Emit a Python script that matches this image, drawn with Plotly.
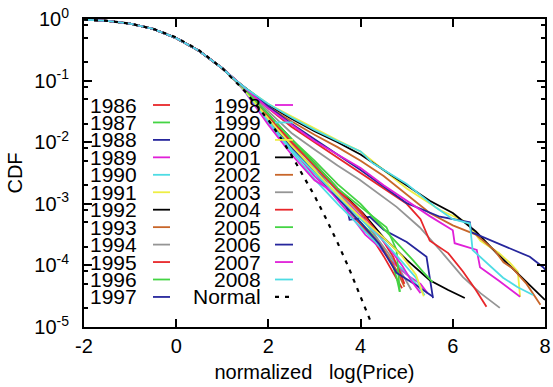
import plotly.graph_objects as go

# ---------------- data ----------------
YEARS = [str(y) for y in range(1986, 2009)]

# common body of all curves (x, log10 CDF)
BODY_X = [-2.0, -1.5, -1.0, -0.5, 0.0, 0.5, 1.0, 1.25]
BODY_LOG = [-0.01, -0.03, -0.075, -0.16, -0.31, -0.52, -0.80, -0.97]

# tails per year: x and -log10(CDF)
TAIL_X = {
    "1986": [1.5, 2.0, 2.4, 2.8, 3.2, 3.6, 3.9, 4.2, 4.5, 4.7, 4.9],
    "1987": [1.5, 2.0, 2.5, 3.0, 3.4, 3.8, 4.2, 4.5, 4.7, 4.78, 4.85],
    "1988": [1.5, 2.0, 2.5, 3.0, 3.3, 3.5, 3.7, 3.76, 4.2, 4.5, 5.0, 5.43, 5.5, 5.57],
    "1989": [1.5, 2.0, 2.5, 3.0, 3.4, 3.8, 4.1, 4.4, 4.7, 5.0, 5.3, 5.45],
    "1990": [1.5, 2.0, 2.5, 3.0, 3.5, 3.9, 4.3, 4.6, 4.9, 5.2, 5.39],
    "1991": [1.5, 2.0, 2.5, 3.0, 3.5, 4.0, 4.5, 5.0, 5.72, 6.3, 6.6, 7.0, 7.24, 7.41, 7.46],
    "1992": [1.5, 2.0, 2.5, 3.0, 3.5, 4.05, 4.5, 5.0, 5.5, 5.9, 6.26],
    "1993": [1.5, 2.0, 2.5, 3.0, 3.5, 4.0, 4.3, 4.6, 4.8, 4.95],
    "1994": [1.5, 2.0, 2.5, 3.0, 3.5, 4.0, 4.4, 4.8, 5.1],
    "1995": [1.5, 2.0, 2.5, 3.0, 3.5, 4.0, 4.4, 4.7, 4.85, 4.95],
    "1996": [1.5, 2.0, 2.5, 3.0, 3.5, 4.0, 4.26, 4.56, 4.78, 4.82, 4.85],
    "1997": [1.5, 2.0, 2.5, 3.0, 3.5, 4.0, 4.4, 4.78, 5.2, 5.57],
    "1998": [1.5, 2.0, 2.5, 3.0, 3.4, 3.8, 4.2, 4.6, 4.9, 5.1, 5.3],
    "1999": [1.5, 2.0, 2.5, 3.0, 3.5, 4.0, 4.5, 4.9, 5.2, 5.35],
    "2000": [1.5, 2.0, 2.5, 3.0, 3.5, 4.0, 4.5, 4.9, 5.2, 5.37],
    "2001": [1.5, 2.0, 2.5, 3.0, 3.5, 4.0, 4.5, 5.0, 5.5, 6.0, 6.5, 6.95, 7.39, 7.7, 8.0],
    "2002": [1.5, 2.0, 2.5, 3.0, 3.5, 4.0, 4.5, 5.0, 5.5, 6.0, 6.5, 6.9, 7.1, 7.3, 7.6, 7.9],
    "2003": [1.5, 2.0, 2.5, 3.0, 3.5, 3.98, 4.78, 5.28, 5.72, 6.22, 6.6, 7.02],
    "2004": [1.5, 2.0, 2.5, 3.0, 3.5, 4.0, 4.5, 5.0, 5.3, 5.5, 5.9, 6.22, 6.5, 6.73],
    "2005": [1.5, 2.0, 2.5, 3.0, 3.5, 4.0, 4.5, 5.13, 5.35, 5.56],
    "2006": [1.5, 2.0, 2.5, 3.0, 3.5, 4.0, 4.5, 5.0, 5.72, 6.37, 6.4, 7.0, 7.67, 7.96, 8.1],
    "2007": [1.5, 2.0, 2.5, 3.0, 3.5, 4.0, 4.5, 5.0, 5.5, 6.0, 6.04, 6.52, 6.59, 7.0, 7.46],
    "2008": [1.5, 2.0, 2.5, 3.0, 3.5, 4.0, 4.26, 5.0, 5.65, 6.0, 6.37, 6.43, 7.09, 7.4, 7.74],
}
TAIL_DEC = {
    "1986": [1.16, 1.60, 1.95, 2.30, 2.62, 2.95, 3.25, 3.50, 3.85, 4.10, 4.37],
    "1987": [1.17, 1.62, 2.05, 2.45, 2.80, 3.15, 3.45, 3.75, 4.00, 4.20, 4.43],
    "1988": [1.15, 1.58, 1.98, 2.38, 2.70, 2.90, 3.05, 3.26, 3.21, 3.42, 3.62, 3.86, 4.20, 4.53],
    "1989": [1.18, 1.68, 2.10, 2.55, 2.85, 3.20, 3.50, 3.70, 3.95, 4.15, 4.30, 4.45],
    "1990": [1.18, 1.70, 2.15, 2.60, 3.00, 3.30, 3.60, 3.85, 4.05, 4.30, 4.48],
    "1991": [1.12, 1.38, 1.58, 1.78, 1.97, 2.15, 2.45, 2.75, 3.10, 3.30, 3.60, 3.80, 3.96, 4.10, 4.51],
    "1992": [1.15, 1.55, 1.95, 2.35, 2.75, 3.15, 3.55, 3.91, 4.24, 4.40, 4.53],
    "1993": [1.15, 1.58, 1.98, 2.35, 2.75, 3.15, 3.50, 3.85, 4.10, 4.35],
    "1994": [1.16, 1.60, 2.00, 2.40, 2.80, 3.20, 3.60, 4.00, 4.40],
    "1995": [1.15, 1.58, 2.00, 2.38, 2.78, 3.12, 3.50, 3.85, 4.10, 4.30],
    "1996": [1.15, 1.55, 1.95, 2.35, 2.75, 3.05, 3.21, 3.38, 3.75, 4.10, 4.43],
    "1997": [1.17, 1.65, 2.08, 2.50, 2.90, 3.30, 3.65, 4.12, 4.32, 4.51],
    "1998": [1.19, 1.72, 2.20, 2.62, 2.80, 3.05, 3.35, 3.70, 4.00, 4.25, 4.45],
    "1999": [1.18, 1.66, 2.12, 2.50, 2.88, 3.25, 3.60, 3.95, 4.20, 4.45],
    "2000": [1.17, 1.62, 2.05, 2.45, 2.85, 3.22, 3.55, 3.85, 4.15, 4.50],
    "2001": [1.12, 1.40, 1.62, 1.82, 2.00, 2.20, 2.45, 2.70, 2.95, 3.15, 3.45, 3.80, 4.12, 4.35, 4.56],
    "2002": [1.12, 1.42, 1.66, 1.88, 2.08, 2.30, 2.55, 2.85, 3.15, 3.35, 3.50, 3.75, 3.95, 4.05, 4.30, 4.64],
    "2003": [1.14, 1.50, 1.85, 2.12, 2.38, 2.61, 3.05, 3.38, 3.75, 4.19, 4.45, 4.69],
    "2004": [1.13, 1.45, 1.75, 2.00, 2.25, 2.50, 2.75, 3.00, 3.25, 3.60, 3.80, 4.10, 4.40, 4.67],
    "2005": [1.15, 1.55, 1.95, 2.30, 2.68, 3.00, 3.40, 3.91, 4.10, 4.27],
    "2006": [1.12, 1.42, 1.70, 1.95, 2.20, 2.45, 2.72, 2.99, 3.21, 3.30, 3.46, 3.65, 3.86, 4.03, 4.15],
    "2007": [1.13, 1.45, 1.72, 1.98, 2.20, 2.42, 2.70, 2.95, 3.20, 3.43, 3.64, 3.75, 4.03, 4.25, 4.51],
    "2008": [1.12, 1.38, 1.60, 1.80, 1.98, 2.15, 2.34, 2.68, 3.07, 3.25, 3.32, 3.75, 4.20, 4.35, 4.48],
}

NORMAL_X = [-2.0, -1.5, -1.0, -0.5, 0.0, 0.5, 1.0, 1.5, 2.0, 2.25, 2.5, 2.75, 3.0, 3.25, 3.5, 3.75, 4.0, 4.25]
NORMAL_DEC = [0.01, 0.03, 0.075, 0.16, 0.30, 0.51, 0.80, 1.18, 1.64, 1.91, 2.21, 2.53, 2.87, 3.24, 3.63, 4.05, 4.50, 4.97]

Y_TICK_VALS = [1, 1e-1, 1e-2, 1e-3, 1e-4, 1e-5]
Y_TICK_TEXT = ["10<sup>0</sup>", "10<sup>-1</sup>", "10<sup>-2</sup>", "10<sup>-3</sup>",
               "10<sup>-4</sup>", "10<sup>-5</sup>"]
Y_MINOR_VALS = [8e-1, 5e-1, 2e-1, 8e-2, 5e-2, 2e-2, 8e-3, 5e-3, 2e-3,
                8e-4, 5e-4, 2e-4, 8e-5, 5e-5, 2e-5]
X_TICK_VALS = [-2, 0, 2, 4, 6, 8]

# ---------------- styling ----------------
PALETTE = ["#e8262a", "#44d444", "#26269c", "#e020d8", "#4edce4",
           "#eeee44", "#000000", "#c8662a", "#959595"]
FONT = "Liberation Sans, Arial, Helvetica, sans-serif"
LW = 1.8

fig = go.Figure()
for i, yr in enumerate(YEARS):
    xs = BODY_X + TAIL_X[yr]
    ys = [10 ** v for v in BODY_LOG] + [10 ** (-d) for d in TAIL_DEC[yr]]
    fig.add_trace(go.Scatter(x=xs, y=ys, mode="lines", name=yr,
                             line=dict(color=PALETTE[i % 9], width=LW),
                             showlegend=False))

fig.add_trace(go.Scatter(x=NORMAL_X, y=[10 ** (-d) for d in NORMAL_DEC], mode="lines",
                         name="Normal", line=dict(color="black", width=2.2, dash="4px,6px"),
                         showlegend=False))

# gnuplot-style key built from annotations and short line samples
PL, PR, PT, PB = 84, 545, 19, 327
def px2paper(px, py):
    return (px - PL) / (PR - PL), (PB - py) / (PB - PT)

LABELS = YEARS + ["Normal"]
COLORS = [PALETTE[i % 9] for i in range(len(YEARS))] + ["black"]
for k, (lab, col) in enumerate(zip(LABELS, COLORS)):
    c = 0 if k < 12 else 1
    r = k if k < 12 else k - 12
    py = 105 + 17.45 * r
    tx = 139 if c == 0 else 263
    sx0, sx1 = (153, 170) if c == 0 else (275, 293)
    ax, ay = px2paper(tx, py)
    fig.add_annotation(x=ax, y=ay, xref="paper", yref="paper", text=lab, showarrow=False,
                       xanchor="right", yanchor="middle",
                       font=dict(family=FONT, size=21, color="black"))
    x0, y0 = px2paper(sx0, py)
    x1, _ = px2paper(sx1, py)
    fig.add_shape(type="line", xref="paper", yref="paper", x0=x0, x1=x1, y0=y0, y1=y0,
                  line=dict(color=col, width=LW if lab != "Normal" else 2.2,
                            dash="solid" if lab != "Normal" else "4px,6px"))

fig.update_layout(
    width=553, height=387,
    margin=dict(l=PL, r=553 - PR, t=PT, b=387 - PB, autoexpand=False),
    paper_bgcolor="white", plot_bgcolor="white",
    font=dict(family=FONT, size=19, color="black"),
)
fig.update_xaxes(
    range=[-2, 8], tickvals=X_TICK_VALS, ticktext=[str(v) for v in X_TICK_VALS],
    ticks="inside", ticklen=8, tickwidth=2, tickcolor="black",
    showline=True, linewidth=2, linecolor="black", mirror="ticks",
    showgrid=False, zeroline=False, automargin=False, ticklabeloverflow="allow",
    tickfont=dict(family=FONT, size=20),
    title=dict(text="normalized\u00a0\u00a0\u00a0log(Price)", font=dict(family=FONT, size=20),
               standoff=9),
)
fig.update_yaxes(
    type="log", range=[-5, 0], tickvals=Y_TICK_VALS, ticktext=Y_TICK_TEXT,
    ticks="inside", ticklen=8, tickwidth=2, tickcolor="black",
    minor=dict(tickvals=Y_MINOR_VALS, ticks="inside", ticklen=4, tickwidth=1.5, tickcolor="black"),
    showline=True, linewidth=2, linecolor="black", mirror="ticks",
    showgrid=False, zeroline=False, automargin=False, ticklabeloverflow="allow",
    ticklabelstandoff=9,
    tickfont=dict(family=FONT, size=20),
    title=dict(text="CDF", font=dict(family=FONT, size=20), standoff=6),
)

fig.write_html("out.html", config={"displayModeBar": False},
               post_script="document.body.style.margin='0';document.body.style.overflow='hidden';")
